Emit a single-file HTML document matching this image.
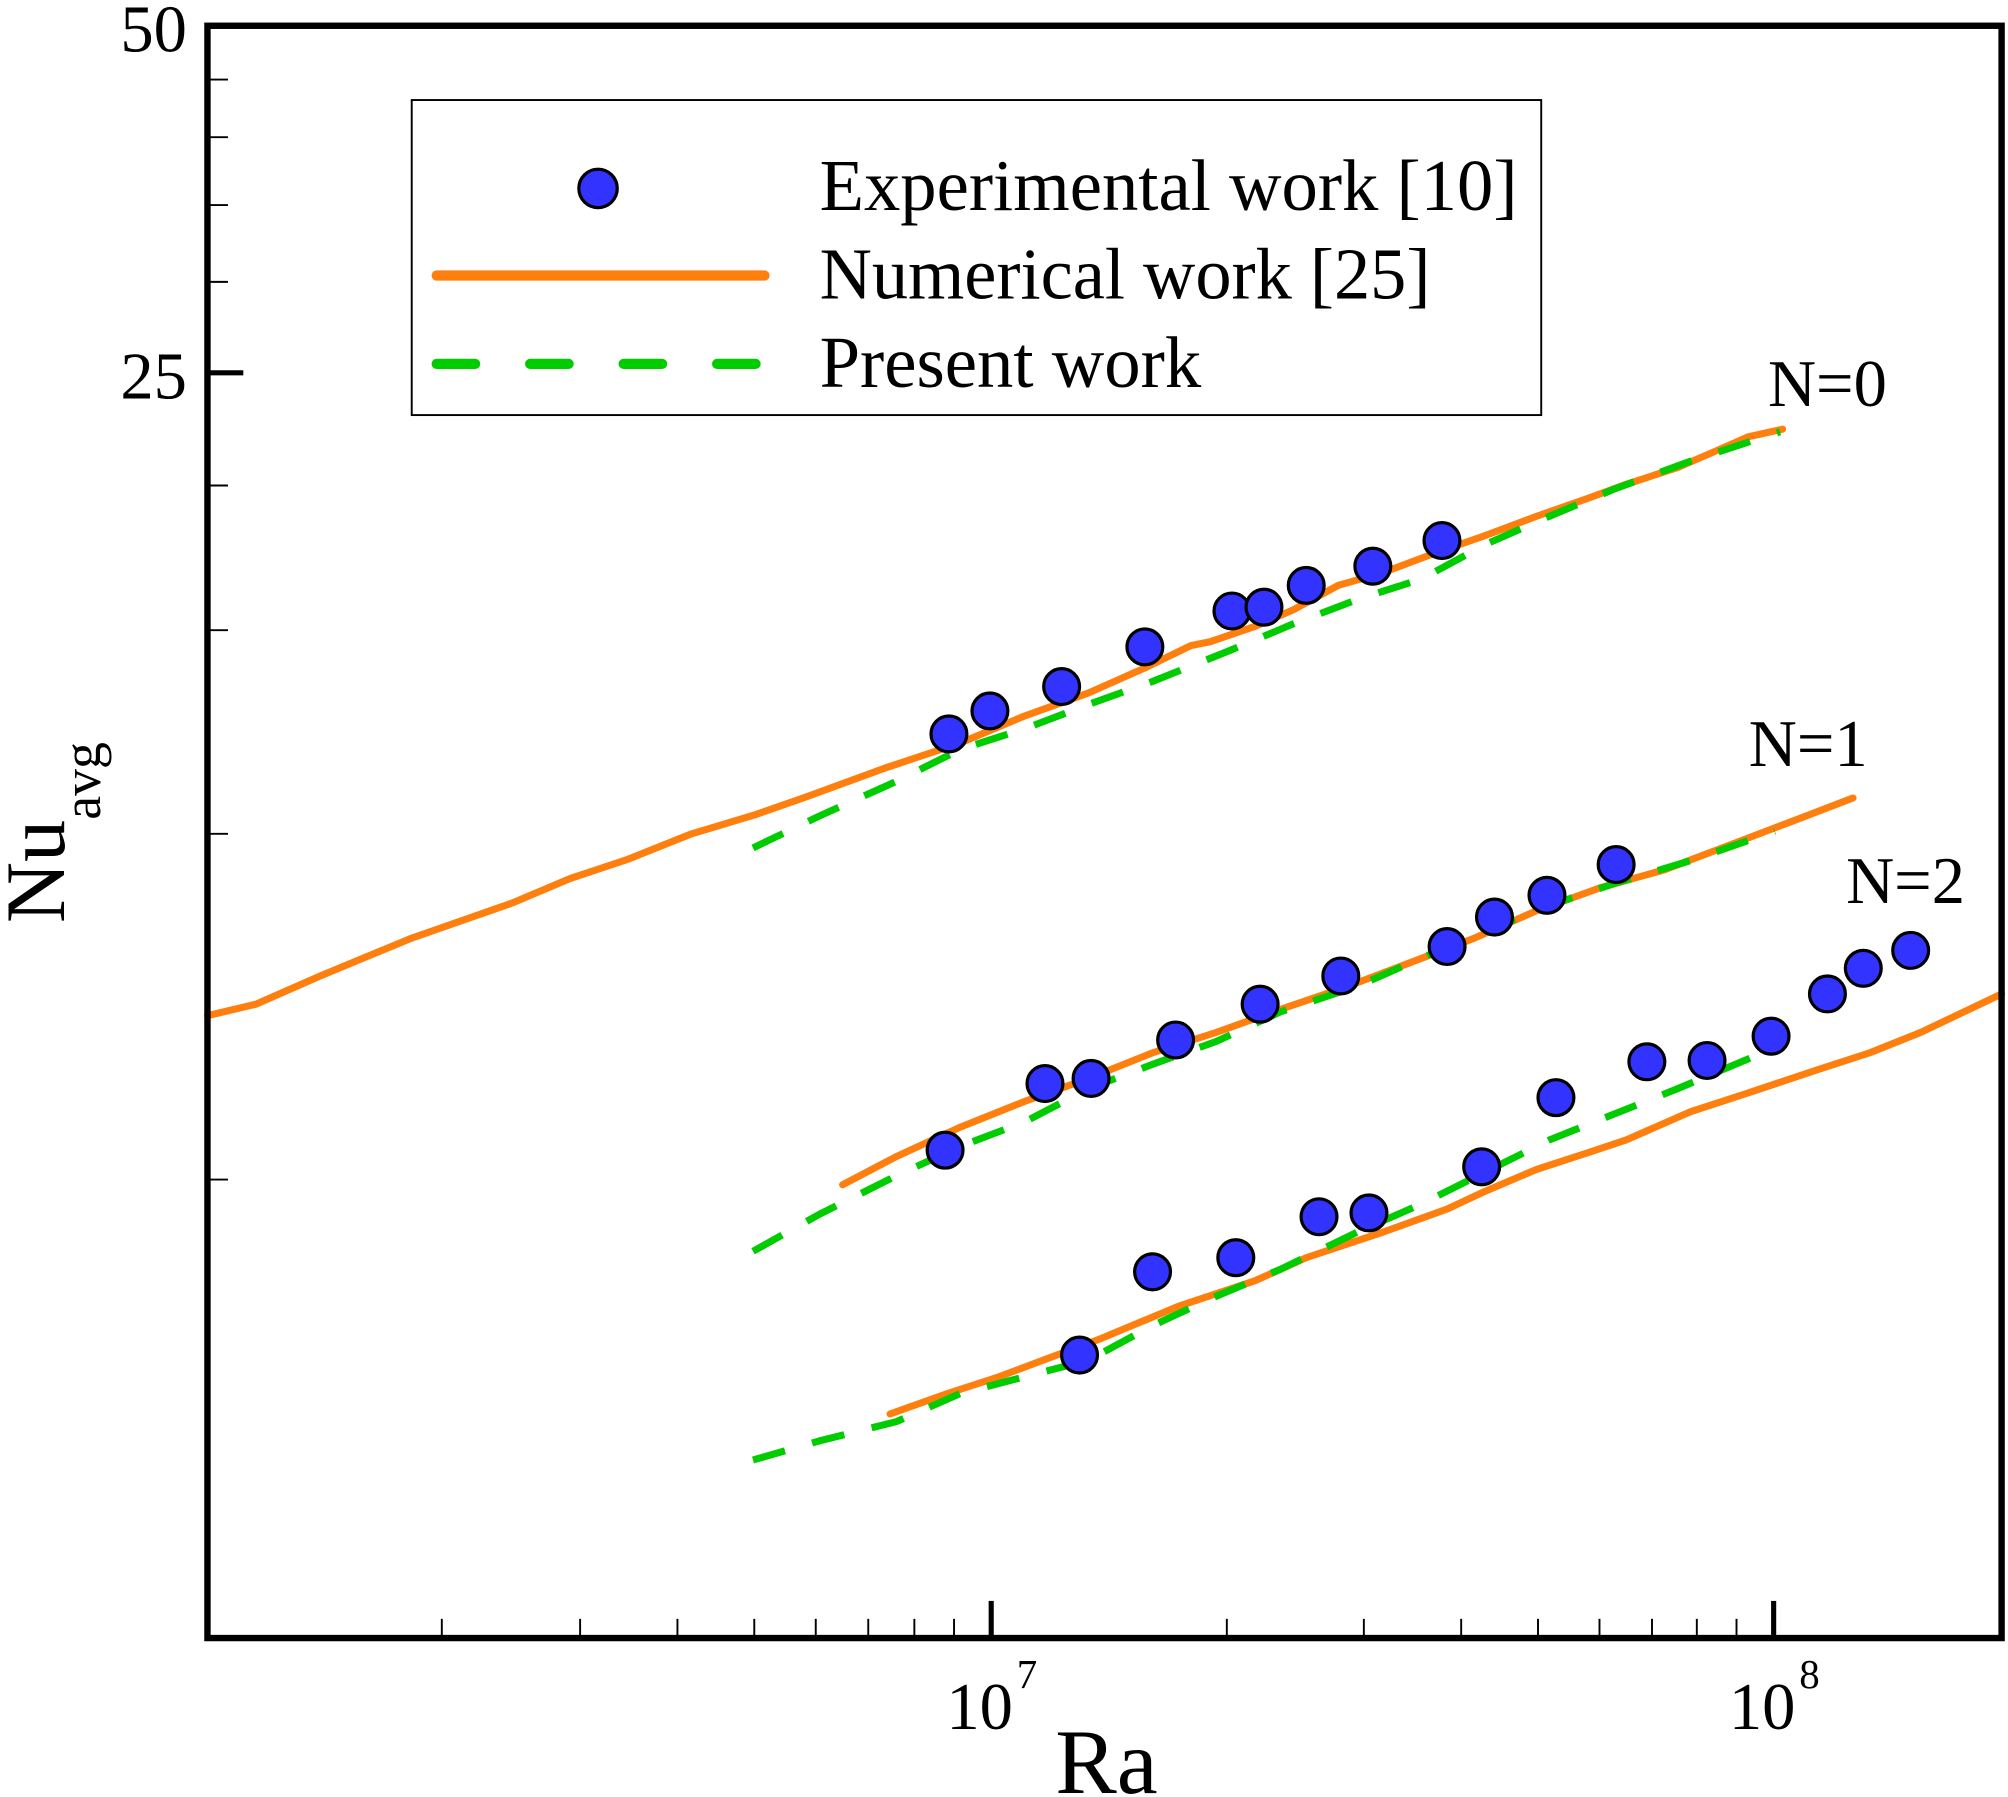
<!DOCTYPE html>
<html><head><meta charset="utf-8"><style>html,body{margin:0;padding:0;background:#fff}svg{display:block}</style></head>
<body>
<svg width="2008" height="1797" viewBox="0 0 1568 1403" xmlns="http://www.w3.org/2000/svg" font-family="Liberation Serif, serif">
<rect width="1568" height="1403" fill="#fff"/>
<g stroke="#000" stroke-width="1.5">
<line x1="162" y1="62" x2="178" y2="62"/><line x1="162" y1="107" x2="178" y2="107"/>
<line x1="162" y1="160" x2="178" y2="160"/><line x1="162" y1="220" x2="178" y2="220"/>
<line x1="162" y1="379" x2="178" y2="379"/><line x1="162" y1="492" x2="178" y2="492"/>
<line x1="162" y1="651" x2="178" y2="651"/><line x1="162" y1="921" x2="178" y2="921"/>
<line x1="345" y1="1279" x2="345" y2="1264"/><line x1="453" y1="1279" x2="453" y2="1264"/>
<line x1="529" y1="1279" x2="529" y2="1264"/><line x1="589" y1="1279" x2="589" y2="1264"/>
<line x1="637" y1="1279" x2="637" y2="1264"/><line x1="678" y1="1279" x2="678" y2="1264"/>
<line x1="714" y1="1279" x2="714" y2="1264"/><line x1="745" y1="1279" x2="745" y2="1264"/>
<line x1="958" y1="1279" x2="958" y2="1264"/><line x1="1065" y1="1279" x2="1065" y2="1264"/>
<line x1="1141" y1="1279" x2="1141" y2="1264"/><line x1="1201" y1="1279" x2="1201" y2="1264"/>
<line x1="1249" y1="1279" x2="1249" y2="1264"/><line x1="1290" y1="1279" x2="1290" y2="1264"/>
<line x1="1325" y1="1279" x2="1325" y2="1264"/><line x1="1356" y1="1279" x2="1356" y2="1264"/>
</g>
<g stroke="#000" stroke-width="4">
<line x1="162" y1="291" x2="190" y2="291"/>
<line x1="774" y1="1279" x2="774" y2="1250"/><line x1="1385" y1="1279" x2="1385" y2="1250"/>
</g>
<g fill="none" stroke-linejoin="round" stroke-linecap="round">
<polyline stroke="#ff7f0e" stroke-width="5.5" points="162,793 200,784 250,762 320,733 400,705 445,686 490,671 540,651 590,636 630,622 690,600 750,580 800,559 850,541 895,521 930,504 945,501 980,489 1010,476 1045,457 1080,447 1120,432 1160,418 1200,403 1240,389 1270,378 1310,365 1340,352 1365,341 1392,335"/>
<polyline stroke="#00cc00" stroke-width="5.5" stroke-dasharray="26,22" stroke-linecap="butt" points="588,662 640,637 700,610 750,585 800,569 850,550 900,532 960,508 1010,487 1060,468 1110,452 1160,425 1210,403 1260,382 1320,360 1390,337"/>
<polyline stroke="#ff7f0e" stroke-width="5.5" points="658,925 700,903 750,880 800,860 850,842 900,822 950,806 1000,788 1050,771 1100,752 1150,733 1200,711 1250,693 1300,679 1350,660 1400,641 1447,623"/>
<polyline stroke="#00cc00" stroke-width="5.5" stroke-dasharray="26,22" stroke-linecap="butt" points="588,977 640,948 700,918 750,895 800,876 850,850 900,831 950,813 1000,790 1060,770 1110,748 1160,727 1210,707 1260,690 1320,672 1386,649"/>
<polyline stroke="#ff7f0e" stroke-width="5.5" points="695,1104 740,1088 780,1075 820,1060 860,1045 920,1020 980,1000 1020,982 1080,962 1130,944 1160,930 1200,913 1240,900 1270,890 1320,868 1360,855 1420,835 1460,822 1500,806 1563,776"/>
<polyline stroke="#00cc00" stroke-width="5.5" stroke-dasharray="26,22" stroke-linecap="butt" points="588,1140 640,1125 700,1110 750,1088 800,1075 850,1062 900,1035 950,1012 1000,991 1060,962 1110,940 1160,915 1210,890 1260,870 1310,850 1386,818"/>
</g>
<g fill="#3333ff" stroke="#000" stroke-width="2.5">
<circle cx="741" cy="573" r="14"/><circle cx="773" cy="555" r="14"/><circle cx="829" cy="536" r="14"/><circle cx="894" cy="505" r="14"/><circle cx="962" cy="477" r="14"/><circle cx="987" cy="474" r="14"/><circle cx="1020" cy="457" r="14"/><circle cx="1072" cy="442" r="14"/><circle cx="1126" cy="422" r="14"/>
<circle cx="738" cy="898" r="14"/><circle cx="816" cy="846" r="14"/><circle cx="852" cy="842" r="14"/><circle cx="918" cy="812" r="14"/><circle cx="984" cy="784" r="14"/><circle cx="1047" cy="762" r="14"/><circle cx="1130" cy="739" r="14"/><circle cx="1167" cy="716" r="14"/><circle cx="1208" cy="699" r="14"/><circle cx="1262" cy="675" r="14"/>
<circle cx="843" cy="1058" r="14"/><circle cx="900" cy="993" r="14"/><circle cx="965" cy="982" r="14"/><circle cx="1030" cy="950" r="14"/><circle cx="1069" cy="947" r="14"/><circle cx="1157" cy="911" r="14"/><circle cx="1215" cy="857" r="14"/><circle cx="1286" cy="829" r="14"/><circle cx="1333" cy="828" r="14"/><circle cx="1383" cy="809" r="14"/><circle cx="1427" cy="776" r="14"/><circle cx="1455" cy="756" r="14"/><circle cx="1492" cy="742" r="14"/>
</g>
<rect x="162" y="20" width="1401" height="1259" fill="none" stroke="#000" stroke-width="5"/>
<rect x="321.5" y="78" width="882" height="246" fill="#fff" stroke="#000" stroke-width="1.5"/>
<circle cx="467" cy="147" r="15" fill="#3333ff" stroke="#000" stroke-width="2.5"/>
<line x1="341" y1="215" x2="597" y2="215" stroke="#ff7f0e" stroke-width="8" stroke-linecap="round"/>
<line x1="341" y1="284" x2="597" y2="284" stroke="#00cc00" stroke-width="8" stroke-linecap="round" stroke-dasharray="30,43"/>
<g font-size="57" fill="#000">
<text x="640" y="164" textLength="545" lengthAdjust="spacingAndGlyphs">Experimental work [10]</text>
<text x="640" y="233" textLength="477" lengthAdjust="spacingAndGlyphs">Numerical work [25]</text>
<text x="640" y="302" textLength="298" lengthAdjust="spacingAndGlyphs">Present work</text>
</g>
<g font-size="52" fill="#000">
<text x="146" y="40" text-anchor="end">50</text>
<text x="146" y="311" text-anchor="end">25</text>
<text x="1427" y="317" text-anchor="middle">N=0</text>
<text x="1412" y="598" text-anchor="middle">N=1</text>
<text x="1488" y="705" text-anchor="middle">N=2</text>
<text x="765" y="1350" text-anchor="middle">10</text>
<text x="1376" y="1350" text-anchor="middle">10</text>
</g>
<g font-size="32" fill="#000">
<text x="794" y="1318">7</text><text x="1405" y="1318">8</text>
</g>
<text x="864" y="1400" font-size="72" text-anchor="middle">Ra</text>
<g transform="translate(50,650) rotate(-90)">
<text x="0" y="0" font-size="66" text-anchor="middle">Nu<tspan font-size="42" dy="28">avg</tspan></text>
</g>
</svg>
</body></html>
